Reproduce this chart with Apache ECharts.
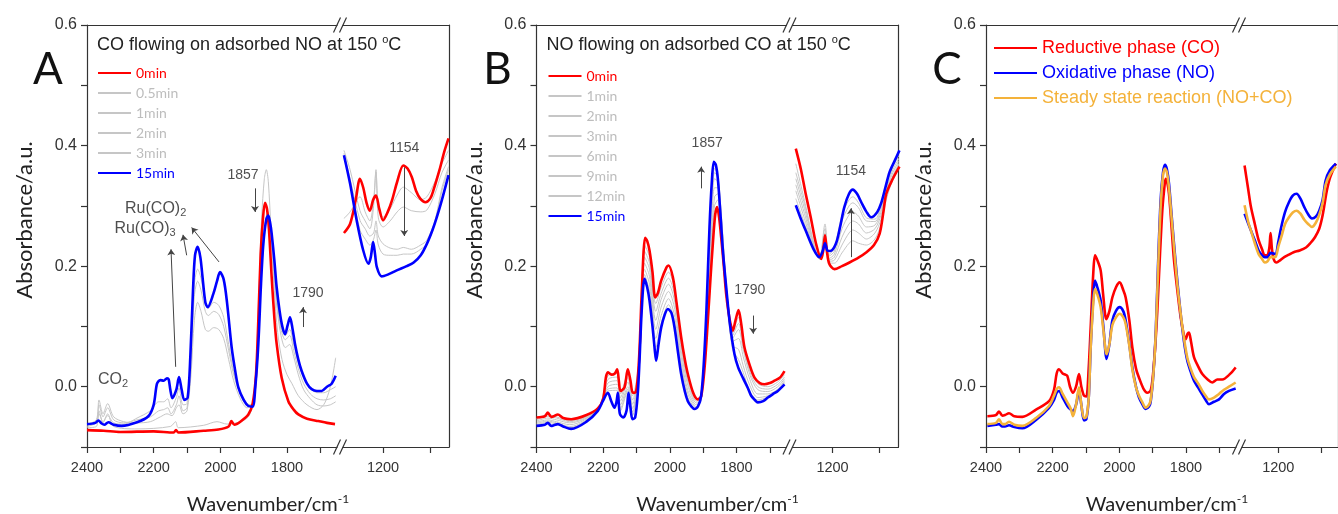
<!DOCTYPE html>
<html>
<head>
<meta charset="utf-8">
<script src="https://cdn.jsdelivr.net/npm/echarts@6/dist/echarts.min.js"></script>
<style>
  html, body { margin: 0; padding: 0; background: #ffffff; }
  #chart { width: 1338px; height: 514px; }
</style>
</head>
<body>
<div id="chart"></div>
<script>
// ---------- axis ticks ----------
const hiTickLabels = [2400, 2200, 2000, 1800];
const hiTicks = [2400, 2300, 2200, 2100, 2000, 1900, 1800, 1700];
const loTickLabels = [1200];
const loTicks = [1200, 1100];
const hiRange = [1650, 2400];
const loRange = [1060, 1285];
const yRange = [-0.1, 0.6];

// ---------- legends ----------
const legendA = ['0min', '0.5min', '1min', '2min', '3min', '15min'];
const legendB = ['0min', '1min', '2min', '3min', '6min', '9min', '12min', '15min'];
const legendC = ['Reductive phase (CO)', 'Oxidative phase (NO)', 'Steady state reaction (NO+CO)'];

// ---------- panel A : CO flowing on adsorbed NO ----------
const a_0min_hi = [[2400,-0.072],[2350,-0.073],[2300,-0.075],[2200,-0.074],[2140,-0.076],[2133,-0.072],[2126,-0.076],[2050,-0.073],[2006,-0.071],[1975,-0.066],[1967,-0.057],[1958,-0.063],[1940,-0.058],[1916,-0.046],[1903,-0.028],[1893,0.02],[1886,0.11],[1879,0.22],[1872,0.28],[1866,0.305],[1860,0.295],[1854,0.26],[1846,0.182],[1838,0.115],[1831,0.071],[1816,0.015],[1796,-0.024],[1780,-0.038],[1766,-0.046],[1740,-0.053],[1706,-0.057],[1680,-0.060],[1656,-0.062]];
const a_0min_lo = [[1283,0.255],[1270,0.27],[1258,0.31],[1249,0.345],[1242,0.33],[1235,0.305],[1228,0.292],[1221,0.31],[1215,0.317],[1208,0.295],[1200,0.276],[1190,0.29],[1181,0.309],[1170,0.34],[1157,0.367],[1148,0.362],[1139,0.348],[1130,0.325],[1121,0.312],[1110,0.306],[1100,0.312],[1093,0.326],[1080,0.36],[1070,0.39],[1061,0.412]];

const a_05min_hi = [[2400,-0.068],[2372,-0.066],[2364,-0.040],[2352,-0.060],[2338,-0.045],[2320,-0.066],[2250,-0.070],[2150,-0.066],[2134,-0.058],[2126,-0.068],[2050,-0.064],[2010,-0.058],[1980,-0.062],[1940,-0.058],[1916,-0.050],[1903,-0.030],[1893,0.03],[1884,0.16],[1876,0.28],[1868,0.345],[1862,0.36],[1856,0.34],[1848,0.26],[1838,0.16],[1828,0.09],[1815,0.045],[1800,0.02],[1785,0.005],[1766,-0.015],[1740,-0.03],[1710,-0.038],[1690,-0.03],[1675,-0.01],[1664,0.015],[1654,0.048]];
const a_05min_lo = [[1283,0.279],[1270,0.29],[1249,0.315],[1238,0.29],[1228,0.275],[1220,0.31],[1215,0.356],[1210,0.3],[1200,0.281],[1185,0.295],[1170,0.318],[1157,0.331],[1140,0.322],[1120,0.31],[1107,0.315],[1090,0.34],[1075,0.37],[1061,0.392]];

const a_1min_hi = [[2400,-0.062],[2372,-0.055],[2364,-0.022],[2352,-0.045],[2338,-0.028],[2320,-0.050],[2290,-0.058],[2250,-0.060],[2210,-0.058],[2180,-0.050],[2160,-0.045],[2145,-0.048],[2132,-0.035],[2124,-0.030],[2112,-0.045],[2100,-0.04],[2088,0.02],[2078,0.11],[2068,0.140],[2058,0.125],[2045,0.095],[2036,0.092],[2020,0.098],[2005,0.095],[1990,0.08],[1975,0.045],[1960,0.01],[1940,-0.020],[1920,-0.035],[1905,-0.03],[1895,0.0],[1886,0.08],[1876,0.2],[1866,0.27],[1858,0.285],[1850,0.26],[1840,0.19],[1830,0.13],[1818,0.085],[1805,0.065],[1792,0.07],[1780,0.05],[1766,0.02],[1750,-0.005],[1730,-0.02],[1710,-0.03],[1690,-0.032],[1670,-0.03],[1654,-0.025]];
const a_1min_lo = [[1283,0.392],[1270,0.36],[1249,0.292],[1238,0.275],[1228,0.262],[1220,0.3],[1215,0.36],[1210,0.28],[1200,0.265],[1185,0.275],[1170,0.29],[1157,0.298],[1140,0.292],[1120,0.29],[1107,0.293],[1090,0.32],[1075,0.355],[1061,0.376]];

const a_2min_hi = [[2400,-0.064],[2372,-0.058],[2364,-0.030],[2352,-0.050],[2338,-0.035],[2320,-0.055],[2290,-0.060],[2250,-0.055],[2210,-0.050],[2185,-0.040],[2170,-0.038],[2158,-0.035],[2148,-0.045],[2132,-0.030],[2124,-0.015],[2112,-0.040],[2100,-0.035],[2088,0.04],[2078,0.15],[2068,0.175],[2058,0.160],[2045,0.125],[2036,0.118],[2020,0.125],[2005,0.12],[1990,0.10],[1975,0.06],[1960,0.02],[1940,-0.012],[1920,-0.03],[1905,-0.03],[1895,0.0],[1886,0.08],[1876,0.2],[1866,0.27],[1858,0.29],[1850,0.265],[1840,0.2],[1830,0.14],[1818,0.095],[1805,0.078],[1792,0.085],[1780,0.06],[1766,0.03],[1750,0.005],[1730,-0.012],[1710,-0.02],[1690,-0.022],[1670,-0.02],[1654,-0.015]];
const a_2min_lo = [[1283,0.387],[1270,0.345],[1249,0.276],[1238,0.262],[1228,0.25],[1220,0.255],[1215,0.275],[1210,0.25],[1200,0.237],[1185,0.23],[1170,0.228],[1157,0.231],[1140,0.228],[1120,0.235],[1107,0.243],[1090,0.275],[1075,0.33],[1061,0.365]];

const a_3min_hi = [[2400,-0.066],[2372,-0.060],[2364,-0.045],[2352,-0.058],[2338,-0.048],[2320,-0.060],[2290,-0.062],[2250,-0.052],[2210,-0.040],[2185,-0.025],[2170,-0.025],[2158,-0.020],[2148,-0.035],[2132,-0.018],[2124,-0.002],[2112,-0.030],[2100,-0.028],[2088,0.06],[2078,0.17],[2068,0.195],[2058,0.18],[2045,0.14],[2036,0.13],[2020,0.14],[2005,0.135],[1990,0.115],[1975,0.07],[1960,0.025],[1940,-0.008],[1920,-0.028],[1905,-0.03],[1895,0.0],[1886,0.075],[1876,0.19],[1866,0.26],[1858,0.28],[1850,0.26],[1840,0.2],[1830,0.145],[1818,0.1],[1805,0.085],[1792,0.095],[1780,0.07],[1766,0.04],[1750,0.015],[1730,-0.002],[1710,-0.01],[1690,-0.01],[1670,-0.005],[1654,0.0]];
const a_3min_lo = [[1283,0.381],[1270,0.34],[1249,0.26],[1238,0.245],[1228,0.235],[1220,0.245],[1215,0.26],[1210,0.235],[1200,0.22],[1185,0.218],[1170,0.218],[1157,0.22],[1140,0.22],[1120,0.228],[1107,0.237],[1090,0.27],[1075,0.325],[1061,0.36]];

const a_15min_hi = [[2400,-0.062],[2375,-0.060],[2366,-0.056],[2356,-0.061],[2348,-0.063],[2336,-0.059],[2320,-0.063],[2296,-0.065],[2250,-0.059],[2216,-0.049],[2200,-0.030],[2190,0.005],[2180,0.011],[2170,0.010],[2160,0.014],[2155,0.012],[2150,-0.005],[2144,-0.019],[2132,-0.005],[2124,0.016],[2116,-0.005],[2108,-0.022],[2098,-0.018],[2090,0.05],[2082,0.16],[2076,0.218],[2068,0.232],[2060,0.215],[2054,0.185],[2045,0.14],[2038,0.132],[2021,0.154],[2010,0.175],[2001,0.190],[1990,0.178],[1980,0.14],[1966,0.065],[1955,0.025],[1946,-0.001],[1930,-0.022],[1916,-0.032],[1903,-0.033],[1895,0.0],[1886,0.071],[1878,0.17],[1871,0.237],[1862,0.278],[1856,0.284],[1850,0.27],[1846,0.254],[1838,0.21],[1831,0.165],[1822,0.125],[1814,0.100],[1806,0.087],[1798,0.102],[1791,0.115],[1784,0.098],[1776,0.071],[1766,0.045],[1756,0.026],[1740,0.005],[1726,-0.004],[1710,-0.007],[1696,-0.007],[1680,0.0],[1666,0.005],[1654,0.018]];
const a_15min_lo = [[1283,0.384],[1270,0.337],[1256,0.276],[1242,0.226],[1231,0.204],[1226,0.215],[1221,0.24],[1217,0.22],[1213,0.198],[1203,0.183],[1190,0.186],[1171,0.193],[1150,0.200],[1135,0.206],[1120,0.218],[1107,0.237],[1095,0.26],[1086,0.281],[1075,0.31],[1061,0.351]];

// ---------- panel B : NO flowing on adsorbed CO ----------
const b_0min_hi = [[2400,-0.051],[2375,-0.049],[2366,-0.043],[2356,-0.050],[2348,-0.049],[2336,-0.046],[2320,-0.052],[2296,-0.054],[2250,-0.047],[2216,-0.036],[2200,-0.020],[2192,0.015],[2186,0.024],[2175,0.02],[2165,0.022],[2158,0.029],[2153,0.01],[2148,-0.007],[2136,-0.001],[2126,0.029],[2118,0.01],[2111,-0.010],[2101,-0.008],[2092,0.05],[2084,0.16],[2074,0.247],[2068,0.242],[2061,0.226],[2052,0.19],[2044,0.148],[2036,0.155],[2026,0.176],[2010,0.198],[2004,0.201],[1991,0.182],[1980,0.14],[1966,0.082],[1955,0.045],[1946,0.021],[1930,-0.01],[1916,-0.021],[1906,-0.016],[1896,0.03],[1886,0.11],[1878,0.18],[1871,0.237],[1864,0.285],[1858,0.298],[1852,0.28],[1846,0.248],[1838,0.2],[1831,0.154],[1820,0.11],[1811,0.093],[1803,0.11],[1794,0.127],[1786,0.105],[1776,0.065],[1760,0.035],[1746,0.015],[1730,0.006],[1716,0.004],[1700,0.006],[1686,0.01],[1670,0.015],[1656,0.026]];
const b_0min_lo = [[1278,0.395],[1267,0.36],[1257,0.32],[1246,0.28],[1235,0.237],[1224,0.212],[1220,0.225],[1216,0.251],[1212,0.225],[1207,0.204],[1196,0.195],[1180,0.2],[1164,0.206],[1145,0.214],[1128,0.223],[1112,0.235],[1100,0.254],[1092,0.29],[1086,0.32],[1072,0.345],[1058,0.365]];

const b_1min_hi = [[2400,-0.053],[2366,-0.046],[2340,-0.050],[2300,-0.056],[2216,-0.037],[2186,0.018],[2158,0.022],[2148,-0.012],[2126,0.022],[2112,-0.015],[2092,0.045],[2076,0.235],[2061,0.215],[2042,0.138],[2026,0.165],[2004,0.19],[1985,0.16],[1966,0.075],[1946,0.015],[1920,-0.02],[1906,-0.018],[1890,0.08],[1878,0.2],[1866,0.3],[1856,0.31],[1845,0.25],[1830,0.15],[1812,0.09],[1794,0.115],[1780,0.075],[1760,0.03],[1736,0.005],[1706,0.0],[1676,0.008],[1656,0.02]];
const b_1min_lo = [[1278,0.37],[1257,0.3],[1239,0.235],[1228,0.212],[1216,0.262],[1207,0.205],[1196,0.205],[1180,0.222],[1165,0.238],[1157,0.242],[1145,0.238],[1128,0.235],[1110,0.245],[1097,0.27],[1086,0.31],[1072,0.345],[1058,0.37]];
const b_2min_hi = [[2400,-0.055],[2366,-0.049],[2340,-0.052],[2300,-0.058],[2216,-0.038],[2186,0.012],[2158,0.016],[2148,-0.018],[2126,0.015],[2112,-0.022],[2092,0.04],[2076,0.225],[2061,0.205],[2042,0.125],[2026,0.155],[2004,0.18],[1985,0.15],[1966,0.068],[1946,0.008],[1920,-0.024],[1906,-0.02],[1890,0.09],[1878,0.22],[1866,0.315],[1856,0.32],[1845,0.26],[1830,0.155],[1812,0.085],[1794,0.105],[1780,0.07],[1760,0.025],[1736,0.0],[1706,-0.004],[1676,0.004],[1656,0.016]];
const b_2min_lo = [[1278,0.355],[1257,0.295],[1239,0.232],[1228,0.212],[1216,0.27],[1207,0.208],[1196,0.21],[1180,0.235],[1165,0.255],[1157,0.26],[1145,0.255],[1128,0.245],[1110,0.255],[1097,0.278],[1086,0.318],[1072,0.35],[1058,0.372]];
const b_3min_hi = [[2400,-0.057],[2366,-0.052],[2340,-0.055],[2300,-0.060],[2216,-0.039],[2186,0.006],[2158,0.01],[2148,-0.024],[2126,0.008],[2112,-0.029],[2092,0.035],[2076,0.215],[2061,0.195],[2042,0.11],[2026,0.145],[2004,0.17],[1985,0.14],[1966,0.06],[1946,0.002],[1920,-0.027],[1906,-0.022],[1890,0.1],[1878,0.235],[1866,0.33],[1856,0.33],[1845,0.27],[1830,0.16],[1812,0.08],[1794,0.095],[1780,0.062],[1760,0.02],[1736,-0.005],[1706,-0.008],[1676,0.0],[1656,0.013]];
const b_3min_lo = [[1278,0.345],[1257,0.288],[1239,0.23],[1228,0.212],[1216,0.255],[1207,0.21],[1196,0.215],[1180,0.248],[1165,0.27],[1157,0.275],[1145,0.27],[1128,0.255],[1110,0.262],[1097,0.285],[1086,0.322],[1072,0.355],[1058,0.376]];
const b_6min_hi = [[2400,-0.059],[2366,-0.055],[2340,-0.058],[2300,-0.063],[2216,-0.039],[2186,0.0],[2158,0.004],[2148,-0.030],[2126,0.0],[2112,-0.036],[2092,0.03],[2076,0.205],[2061,0.183],[2042,0.095],[2026,0.132],[2004,0.158],[1985,0.128],[1966,0.05],[1946,-0.006],[1920,-0.03],[1906,-0.022],[1890,0.11],[1878,0.25],[1866,0.345],[1856,0.34],[1845,0.275],[1830,0.165],[1812,0.075],[1794,0.08],[1780,0.05],[1760,0.012],[1736,-0.012],[1706,-0.012],[1676,-0.004],[1656,0.01]];
const b_6min_lo = [[1278,0.335],[1257,0.28],[1239,0.228],[1228,0.213],[1216,0.245],[1207,0.213],[1196,0.22],[1180,0.262],[1165,0.285],[1157,0.29],[1145,0.283],[1128,0.265],[1110,0.268],[1097,0.29],[1086,0.326],[1072,0.36],[1058,0.38]];
const b_9min_hi = [[2400,-0.061],[2366,-0.057],[2340,-0.060],[2300,-0.066],[2216,-0.040],[2186,-0.004],[2158,-0.002],[2148,-0.036],[2126,-0.004],[2112,-0.042],[2092,0.03],[2076,0.195],[2061,0.17],[2042,0.08],[2026,0.118],[2004,0.146],[1985,0.115],[1966,0.04],[1946,-0.012],[1920,-0.033],[1906,-0.02],[1890,0.12],[1878,0.26],[1866,0.355],[1856,0.348],[1845,0.28],[1830,0.165],[1812,0.068],[1794,0.062],[1780,0.035],[1760,0.002],[1736,-0.018],[1706,-0.015],[1676,-0.006],[1656,0.007]];
const b_9min_lo = [[1278,0.325],[1257,0.272],[1239,0.227],[1228,0.214],[1216,0.24],[1207,0.217],[1196,0.225],[1180,0.275],[1165,0.3],[1157,0.305],[1145,0.297],[1128,0.275],[1110,0.274],[1097,0.295],[1086,0.33],[1072,0.365],[1058,0.385]];
const b_12min_hi = [[2400,-0.063],[2366,-0.059],[2340,-0.062],[2300,-0.068],[2216,-0.040],[2186,-0.007],[2158,-0.006],[2148,-0.04],[2126,-0.007],[2112,-0.048],[2092,0.035],[2076,0.186],[2061,0.158],[2042,0.065],[2026,0.105],[2004,0.136],[1985,0.105],[1966,0.03],[1946,-0.018],[1920,-0.035],[1906,-0.018],[1890,0.125],[1878,0.27],[1866,0.362],[1856,0.352],[1845,0.28],[1830,0.162],[1812,0.062],[1794,0.045],[1780,0.024],[1760,-0.008],[1736,-0.022],[1706,-0.017],[1676,-0.007],[1656,0.005]];
const b_12min_lo = [[1278,0.312],[1257,0.265],[1239,0.226],[1228,0.214],[1216,0.24],[1207,0.22],[1196,0.23],[1180,0.285],[1165,0.31],[1157,0.315],[1145,0.305],[1128,0.28],[1110,0.278],[1097,0.3],[1086,0.335],[1072,0.37],[1058,0.388]];

const b_15min_hi = [[2400,-0.065],[2375,-0.063],[2366,-0.060],[2356,-0.065],[2348,-0.064],[2336,-0.062],[2320,-0.066],[2296,-0.070],[2250,-0.058],[2216,-0.040],[2201,-0.024],[2186,-0.010],[2175,-0.025],[2166,-0.035],[2160,-0.025],[2156,-0.010],[2150,-0.045],[2140,-0.051],[2130,-0.040],[2124,-0.010],[2118,-0.035],[2112,-0.054],[2104,-0.051],[2096,-0.01],[2091,0.043],[2084,0.13],[2076,0.179],[2068,0.165],[2061,0.143],[2052,0.1],[2045,0.06],[2041,0.043],[2034,0.07],[2026,0.098],[2015,0.12],[2006,0.129],[1995,0.122],[1985,0.095],[1975,0.055],[1966,0.021],[1955,-0.008],[1946,-0.024],[1935,-0.033],[1926,-0.037],[1915,-0.032],[1906,-0.015],[1898,0.04],[1890,0.13],[1881,0.265],[1874,0.34],[1868,0.373],[1862,0.368],[1856,0.345],[1848,0.285],[1840,0.22],[1830,0.16],[1820,0.105],[1806,0.054],[1795,0.032],[1781,0.015],[1766,-0.002],[1756,-0.015],[1745,-0.022],[1736,-0.026],[1720,-0.024],[1706,-0.018],[1690,-0.012],[1676,-0.007],[1656,0.004]];
const b_15min_lo = [[1278,0.301],[1268,0.28],[1257,0.259],[1239,0.226],[1228,0.215],[1221,0.225],[1216,0.238],[1211,0.226],[1205,0.225],[1193,0.237],[1184,0.265],[1175,0.298],[1165,0.32],[1157,0.327],[1148,0.32],[1139,0.306],[1128,0.29],[1118,0.281],[1105,0.29],[1097,0.304],[1088,0.33],[1079,0.356],[1068,0.375],[1058,0.392]];

// ---------- panel C : reductive / oxidative / steady state ----------
const c_red_hi = [[2396,-0.049],[2370,-0.047],[2361,-0.041],[2351,-0.048],[2343,-0.047],[2331,-0.044],[2315,-0.049],[2291,-0.050],[2250,-0.038],[2211,-0.024],[2196,-0.005],[2188,0.022],[2181,0.029],[2170,0.022],[2162,0.02],[2156,0.018],[2148,0.0],[2139,-0.010],[2130,0.0],[2121,0.021],[2114,0.0],[2106,-0.015],[2099,-0.016],[2092,0.03],[2086,0.098],[2078,0.19],[2073,0.218],[2066,0.21],[2056,0.193],[2048,0.15],[2039,0.112],[2030,0.125],[2021,0.148],[2010,0.165],[1999,0.173],[1988,0.16],[1981,0.148],[1970,0.11],[1961,0.065],[1950,0.03],[1941,0.015],[1926,-0.005],[1916,-0.01],[1906,-0.006],[1899,0.02],[1892,0.07],[1886,0.126],[1878,0.22],[1871,0.293],[1865,0.33],[1861,0.345],[1856,0.338],[1851,0.32],[1844,0.27],[1836,0.21],[1826,0.16],[1816,0.115],[1806,0.085],[1801,0.079],[1795,0.088],[1791,0.09],[1785,0.075],[1776,0.049],[1762,0.032],[1751,0.021],[1735,0.012],[1721,0.007],[1706,0.012],[1691,0.012],[1670,0.02],[1651,0.032]];
const c_red_lo = [[1279,0.367],[1271,0.33],[1264,0.298],[1255,0.27],[1246,0.243],[1238,0.228],[1232,0.218],[1226,0.218],[1221,0.23],[1218,0.255],[1215,0.23],[1211,0.212],[1204,0.206],[1195,0.21],[1186,0.215],[1175,0.219],[1164,0.223],[1150,0.226],[1135,0.231],[1125,0.238],[1114,0.248],[1104,0.262],[1097,0.281],[1091,0.305],[1086,0.326],[1078,0.348],[1065,0.37]];
const c_blue_hi = [[2396,-0.065],[2370,-0.063],[2361,-0.062],[2351,-0.066],[2343,-0.066],[2331,-0.064],[2315,-0.067],[2291,-0.069],[2250,-0.055],[2211,-0.035],[2196,-0.022],[2188,-0.010],[2181,-0.007],[2170,-0.018],[2156,-0.032],[2146,-0.038],[2139,-0.040],[2130,-0.03],[2121,-0.007],[2114,-0.03],[2106,-0.056],[2099,-0.054],[2092,-0.02],[2086,0.065],[2078,0.15],[2073,0.176],[2066,0.165],[2056,0.143],[2048,0.1],[2038,0.046],[2030,0.07],[2021,0.11],[2010,0.126],[1999,0.132],[1988,0.125],[1981,0.11],[1970,0.07],[1961,0.032],[1950,0.0],[1941,-0.018],[1930,-0.03],[1921,-0.037],[1911,-0.033],[1906,-0.025],[1898,0.02],[1891,0.087],[1884,0.2],[1876,0.31],[1869,0.355],[1863,0.368],[1857,0.36],[1851,0.337],[1844,0.29],[1836,0.237],[1826,0.175],[1816,0.121],[1806,0.075],[1796,0.043],[1786,0.025],[1776,0.010],[1763,-0.002],[1751,-0.013],[1741,-0.022],[1731,-0.029],[1716,-0.025],[1701,-0.021],[1686,-0.012],[1671,-0.007],[1651,-0.003]];
const c_blue_lo = [[1279,0.287],[1270,0.27],[1264,0.259],[1255,0.243],[1246,0.226],[1238,0.218],[1232,0.215],[1225,0.215],[1218,0.222],[1207,0.22],[1200,0.24],[1193,0.265],[1184,0.29],[1175,0.306],[1166,0.317],[1157,0.32],[1148,0.312],[1139,0.298],[1130,0.286],[1121,0.279],[1112,0.282],[1104,0.292],[1096,0.31],[1089,0.342],[1079,0.359],[1065,0.37]];
const c_orange_hi = [[2396,-0.062],[2370,-0.060],[2361,-0.054],[2351,-0.062],[2343,-0.062],[2331,-0.058],[2315,-0.063],[2291,-0.065],[2250,-0.052],[2211,-0.032],[2196,-0.015],[2188,-0.004],[2181,-0.001],[2170,-0.012],[2156,-0.026],[2146,-0.036],[2139,-0.049],[2130,-0.03],[2121,-0.001],[2114,-0.03],[2106,-0.052],[2099,-0.05],[2092,-0.02],[2086,0.065],[2078,0.14],[2073,0.162],[2066,0.153],[2056,0.132],[2048,0.095],[2038,0.054],[2030,0.07],[2021,0.102],[2010,0.115],[1999,0.121],[1988,0.115],[1981,0.104],[1970,0.068],[1961,0.029],[1950,-0.001],[1941,-0.015],[1930,-0.027],[1921,-0.035],[1911,-0.03],[1906,-0.022],[1898,0.02],[1891,0.085],[1884,0.19],[1876,0.3],[1869,0.35],[1863,0.362],[1857,0.355],[1851,0.33],[1844,0.285],[1836,0.232],[1826,0.17],[1816,0.121],[1806,0.08],[1796,0.048],[1786,0.03],[1776,0.016],[1763,0.005],[1751,-0.007],[1741,-0.015],[1731,-0.021],[1716,-0.018],[1701,-0.012],[1686,-0.005],[1671,0.0],[1651,0.007]];
const c_orange_lo = [[1279,0.301],[1270,0.272],[1264,0.259],[1255,0.238],[1246,0.22],[1238,0.212],[1232,0.206],[1225,0.208],[1218,0.215],[1207,0.215],[1200,0.232],[1193,0.248],[1184,0.27],[1175,0.281],[1166,0.289],[1157,0.292],[1148,0.287],[1139,0.277],[1130,0.27],[1121,0.265],[1112,0.272],[1104,0.285],[1096,0.305],[1089,0.335],[1079,0.352],[1065,0.365]];

// ---------- peak annotations: [text, wavenumber, absorbance] ----------
const notesA_hi = [['{n|1857}',1932,0.351],['{r|Ru(CO)}{s|2}',2194,0.296],['{r|Ru(CO)}{s|3}',2226,0.262],['{n|1790}',1737,0.155],['{r|CO}{s|2}',2322,0.012]];
const notesA_lo = [['{n|1154}',1155,0.396]];
const notesB_hi = [['{n|1857}',1888,0.404],['{n|1790}',1760,0.16]];
const notesB_lo = [['{n|1154}',1161,0.358]];
// arrows: [[from], [to]]
const arrowsA_hi = [[[1896,0.329],[1896,0.290]],[[1752,0.099],[1752,0.132]],[[2134,0.033],[2148,0.228]],[[2101,0.218],[2112,0.252]],[[2004,0.207],[2086,0.264]]];
const arrowsA_lo = [[[1155,0.364],[1155,0.250]]];
const arrowsB_hi = [[[1906,0.329],[1906,0.365]],[[1750,0.118],[1750,0.088]]];
const arrowsB_lo = [[[1161,0.215],[1161,0.296]]];

// ---------- layout ----------
const PANEL_LEFT = [87, 536.5, 986];
const TOP = 25, H = 422, W_HI = 250, GAP = 6, W_LO = 106;
const AXIS = '#333333';
const RED = '#ff0000', BLUE = '#0000ff', GRAY = '#c6c6c6', ORANGE = '#f4b23a';
const SANS = '"Liberation Sans", Arial, sans-serif';
const SOFT = 'Lato, "Open Sans", sans-serif';

const grids = [], xAxes = [], yAxes = [], series = [];

PANEL_LEFT.forEach((L, p) => {
  grids.push({ left: L, top: TOP, width: W_HI, height: H });
  grids.push({ left: L + W_HI + GAP, top: TOP, width: W_LO, height: H });
  const line = { show: true, onZero: false, lineStyle: { color: AXIS, width: 1.2 } };
  const label = { fontFamily: SANS, fontSize: 14.5, color: '#333', margin: 13, formatter: v => String(v) };
  // high-wavenumber segment
  xAxes.push({ type: 'value', gridIndex: 2 * p, position: 'bottom', inverse: true, min: hiRange[0], max: hiRange[1],
    axisLine: line, splitLine: { show: false },
    axisTick: { show: true, inside: false, length: 6, lineStyle: { color: AXIS, width: 1.2 }, customValues: hiTicks },
    axisLabel: Object.assign({ customValues: hiTickLabels }, label) });
  xAxes.push({ type: 'value', gridIndex: 2 * p, position: 'top', inverse: true, min: hiRange[0], max: hiRange[1],
    axisLine: line, axisTick: { show: false }, axisLabel: { show: false }, splitLine: { show: false } });
  // low-wavenumber segment
  xAxes.push({ type: 'value', gridIndex: 2 * p + 1, position: 'bottom', inverse: true, min: loRange[0], max: loRange[1],
    axisLine: line, splitLine: { show: false },
    axisTick: { show: true, inside: false, length: 6, lineStyle: { color: AXIS, width: 1.2 }, customValues: loTicks },
    axisLabel: Object.assign({ customValues: loTickLabels }, label) });
  xAxes.push({ type: 'value', gridIndex: 2 * p + 1, position: 'top', inverse: true, min: loRange[0], max: loRange[1],
    axisLine: line, axisTick: { show: false }, axisLabel: { show: false }, splitLine: { show: false } });
  yAxes.push({ type: 'value', gridIndex: 2 * p, position: 'left', min: yRange[0], max: yRange[1], interval: 0.1,
    axisLine: line, splitLine: { show: false },
    axisTick: { show: true, inside: false, length: 6, lineStyle: { color: AXIS, width: 1.2 } },
    axisLabel: { fontFamily: SANS, fontSize: 16, color: '#333', margin: 10,
      formatter: v => (Math.round(Math.abs(v) * 10) % 2 === 0 ? v.toFixed(1) : '') } });
  yAxes.push({ type: 'value', gridIndex: 2 * p + 1, position: 'right', min: yRange[0], max: yRange[1],
    axisLine: line, axisTick: { show: false }, axisLabel: { show: false }, splitLine: { show: false } });
});

function spectrum(p, name, color, width, z, hi, lo) {
  const base = { type: 'line', name, symbol: 'none', smooth: 0.3, silent: true, z,
    lineStyle: { color, width }, itemStyle: { color }, animation: false };
  series.push(Object.assign({}, base, { xAxisIndex: 4 * p, yAxisIndex: 2 * p, data: hi }));
  series.push(Object.assign({}, base, { xAxisIndex: 4 * p + 2, yAxisIndex: 2 * p + 1, data: lo }));
}

const richNotes = {
  n: { fontFamily: SANS, fontSize: 14, color: '#222' },
  r: { fontFamily: SANS, fontSize: 16, color: '#222' },
  s: { fontFamily: SANS, fontSize: 11, color: '#222', padding: [9, 0, 0, 0] }
};
function notes(xi, yi, list) {
  series.push({ type: 'scatter', xAxisIndex: xi, yAxisIndex: yi, symbolSize: 1, silent: true, z: 10,
    itemStyle: { color: 'rgba(0,0,0,0)' }, animation: false,
    label: { show: true, position: 'inside', rich: richNotes, formatter: prm => prm.data.t },
    data: list.map(n => ({ value: [n[1], n[2]], t: n[0] })) });
}
function arrows(xi, yi, list) {
  series.push({ type: 'lines', coordinateSystem: 'cartesian2d', xAxisIndex: xi, yAxisIndex: yi, silent: true, z: 10,
    symbol: ['none', 'arrow'], symbolSize: 6, animation: false,
    lineStyle: { color: '#444', width: 1, opacity: 1, curveness: 0 },
    data: list.map(a => ({ coords: a })) });
}

// panel A
spectrum(0, '0.5min', GRAY, 1, 2, a_05min_hi, a_05min_lo);
spectrum(0, '1min', GRAY, 1, 2, a_1min_hi, a_1min_lo);
spectrum(0, '2min', GRAY, 1, 2, a_2min_hi, a_2min_lo);
spectrum(0, '3min', GRAY, 1, 2, a_3min_hi, a_3min_lo);
spectrum(0, '0min', RED, 2.6, 3, a_0min_hi, a_0min_lo);
spectrum(0, '15min', BLUE, 2.6, 4, a_15min_hi, a_15min_lo);
// panel B
spectrum(1, '1min', GRAY, 1, 2, b_1min_hi, b_1min_lo);
spectrum(1, '2min', GRAY, 1, 2, b_2min_hi, b_2min_lo);
spectrum(1, '3min', GRAY, 1, 2, b_3min_hi, b_3min_lo);
spectrum(1, '6min', GRAY, 1, 2, b_6min_hi, b_6min_lo);
spectrum(1, '9min', GRAY, 1, 2, b_9min_hi, b_9min_lo);
spectrum(1, '12min', GRAY, 1, 2, b_12min_hi, b_12min_lo);
spectrum(1, '0min', RED, 2.6, 3, b_0min_hi, b_0min_lo);
spectrum(1, '15min', BLUE, 2.6, 4, b_15min_hi, b_15min_lo);
// panel C
spectrum(2, legendC[0], RED, 2.6, 2, c_red_hi, c_red_lo);
spectrum(2, legendC[1], BLUE, 2.6, 3, c_blue_hi, c_blue_lo);
spectrum(2, legendC[2], ORANGE, 2.6, 4, c_orange_hi, c_orange_lo);

notes(0, 0, notesA_hi); notes(2, 1, notesA_lo);
notes(4, 2, notesB_hi); notes(6, 3, notesB_lo);
arrows(0, 0, arrowsA_hi); arrows(2, 1, arrowsA_lo);
arrows(4, 2, arrowsB_hi); arrows(6, 3, arrowsB_lo);

function legendItems(names, colors) {
  return names.map((n, i) => ({ name: n, textStyle: { color: colors[i] } }));
}
const LGRAY = '#bdbdbd';
const legends = [
  { left: 97, top: 66, data: legendItems(legendA, [RED, LGRAY, LGRAY, LGRAY, LGRAY, BLUE]),
    itemWidth: 33, itemHeight: 14, itemGap: 6, textStyle: { fontFamily: SOFT, fontSize: 14 } },
  { left: 547.5, top: 69, data: legendItems(legendB, [RED, LGRAY, LGRAY, LGRAY, LGRAY, LGRAY, LGRAY, BLUE]),
    itemWidth: 33, itemHeight: 14, itemGap: 6, textStyle: { fontFamily: SOFT, fontSize: 14 } },
  { left: 993, top: 39, data: legendItems(legendC, [RED, BLUE, ORANGE]),
    itemWidth: 43, itemHeight: 14, itemGap: 7, textStyle: { fontFamily: SANS, fontSize: 18 } }
].map(l => Object.assign({ orient: 'vertical', selectedMode: false, padding: 0, itemStyle: { opacity: 0 } }, l));

// ---------- free text and axis breaks ----------
const graphic = [];
const letters = ['A', 'B', 'C'];
const titles = ['CO flowing on adsorbed NO at 150 ', 'NO flowing on adsorbed CO at 150 ', null];
PANEL_LEFT.forEach((L, p) => {
  graphic.push({ type: 'text', x: L - 39, y: 70, silent: true,
    style: { text: letters[p], font: '44px ' + SOFT, fill: '#111', align: 'center', verticalAlign: 'middle' } });
  if (titles[p]) {
    graphic.push({ type: 'text', x: L + 10, y: 45, silent: true,
      style: { text: '{t|' + titles[p] + '}{u|o}{t|C}', align: 'left', verticalAlign: 'middle',
        rich: { t: { font: '18px ' + SANS, fill: '#222' }, u: { font: '11px ' + SANS, fill: '#222', padding: [0, 0, 10, 0] } } } });
  }
  // axis titles
  graphic.push({ type: 'text', x: L + (W_HI + GAP + W_LO) / 2, y: 505, silent: true,
    style: { text: '{t|Wavenumber/cm}{u|-1}', align: 'center', verticalAlign: 'middle',
      rich: { t: { font: '20px ' + SOFT, fill: '#222' }, u: { font: '12px ' + SOFT, fill: '#222', padding: [0, 0, 12, 0] } } } });
  graphic.push({ type: 'text', x: L - 62, y: 220, rotation: Math.PI / 2, silent: true,
    style: { text: 'Absorbance/a.u.', font: '22px ' + SOFT, fill: '#222', align: 'center', verticalAlign: 'middle' } });
  // axis break marks
  const cx = L + W_HI + GAP / 2;
  [TOP, TOP + H].forEach(y => {
    [-3, 3].forEach(d => {
      graphic.push({ type: 'line', silent: true,
        shape: { x1: cx + d - 3.5, y1: y + 7.5, x2: cx + d + 3.5, y2: y - 7.5 },
        style: { stroke: AXIS, lineWidth: 1.2 } });
    });
  });
});

const chart = echarts.init(document.getElementById('chart'), null, { renderer: 'canvas' });
chart.setOption({
  backgroundColor: '#ffffff',
  animation: false,
  grid: grids,
  xAxis: xAxes,
  yAxis: yAxes,
  legend: legends,
  series: series,
  graphic: graphic
});
</script>
</body>
</html>
